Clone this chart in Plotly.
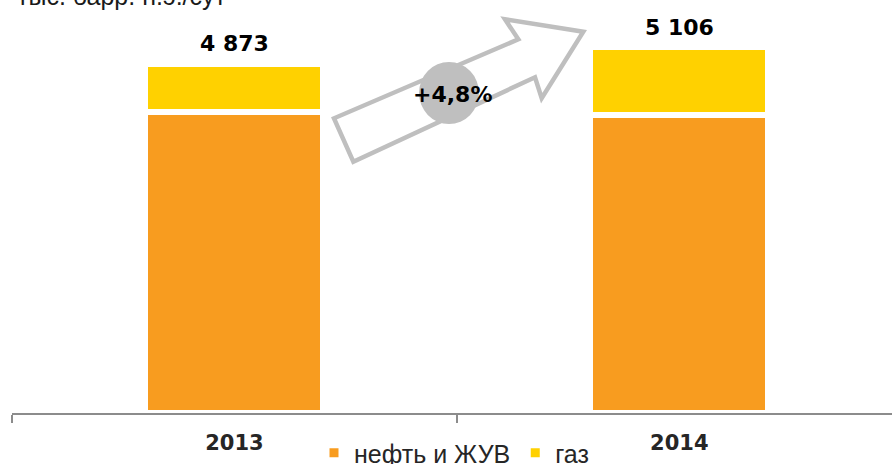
import plotly.graph_objects as go

# ---- data ----
years = ["2013", "2014"]
oil = [4196, 4157]      # нефть и ЖУВ
gas = [677, 949]        # газ
series_names = ["нефть и ЖУВ", "газ"]
unit_label = "тыс. барр. н.э./сут"

totals = [o + g for o, g in zip(oil, gas)]
growth = (totals[1] / totals[0] - 1) * 100

# ---- styles ----
ORANGE = "#F89C1F"
YELLOW = "#FFD100"
GREY = "#BFBFBF"
W, H = 892, 464
ML, MR, MT, MB = 12, 0, 0, 51
PW, PH = W - ML - MR, H - MT - MB


def px_x(x):
    return (x - ML) / PW


def px_y(y):
    return (H - MB - y) / PH


fig = go.Figure()
fig.add_trace(go.Bar(x=years, y=oil, name=series_names[0], marker=dict(color=ORANGE, line=dict(color="white", width=6)),
                     width=0.4, showlegend=False))
fig.add_trace(go.Bar(x=years, y=gas, name=series_names[1], marker=dict(color=YELLOW, line=dict(color="white", width=6)),
                     width=0.4, showlegend=False))
# legend entries
fig.add_trace(go.Scatter(x=[None], y=[None], mode="markers", name=series_names[0],
                         marker=dict(symbol="square", size=9, color=ORANGE)))
fig.add_trace(go.Scatter(x=[None], y=[None], mode="markers", name=series_names[1],
                         marker=dict(symbol="square", size=9, color=YELLOW)))

annotations = []
for i, tot in enumerate(totals):
    annotations.append(dict(x=i, y=tot, xref="x", yref="y", text=f"{tot:,}".replace(",", " "),
                            showarrow=False, xanchor="center", yanchor="middle", yshift=20,
                            font=dict(family="DejaVu Sans", size=22, color="#000000", weight="bold")))

annotations.append(dict(x=px_x(15), y=px_y(7), xref="paper", yref="paper", text=unit_label,
                        showarrow=False, xanchor="left", yanchor="bottom", yshift=-5,
                        font=dict(family="Liberation Sans", size=25, color="#1a1a1a")))

growth_txt = ("+" if growth >= 0 else "") + f"{growth:.1f}".replace(".", ",") + "%"
annotations.append(dict(x=px_x(453), y=px_y(95), xref="paper", yref="paper", text=growth_txt,
                        showarrow=False, xanchor="center", yanchor="middle",
                        font=dict(family="DejaVu Sans", size=22, color="#000000", weight="bold")))

# arrow outline (decorative), pixel coordinates converted to paper
arrow_px = [(353.3, 161.7), (334, 118.3), (518.3, 39.3), (505, 19.3), (583.3, 31.7),
            (541.7, 98.3), (535, 77.3)]
path = "M " + " L ".join(f"{px_x(x):.5f},{px_y(y):.5f}" for x, y in arrow_px) + " Z"
shapes = [
    dict(type="path", path=path, xref="paper", yref="paper", line=dict(color=GREY, width=4.5),
         fillcolor="rgba(255,255,255,0)", layer="above"),
    dict(type="circle", xref="paper", yref="paper", x0=px_x(419), x1=px_x(479), y0=px_y(124), y1=px_y(62),
         fillcolor=GREY, line=dict(width=0), layer="above"),
]

fig.update_layout(
    barmode="stack",
    width=W, height=H,
    margin=dict(l=ML, r=MR, t=MT, b=MB, autoexpand=False),
    paper_bgcolor="white", plot_bgcolor="white",
    showlegend=True,
    legend=dict(orientation="h", traceorder="normal", xref="container", yref="container",
                x=454 / W, xanchor="center", y=(H - 453) / H, yanchor="middle",
                font=dict(family="Liberation Sans", size=25, color="#262626"),
                bgcolor="rgba(0,0,0,0)", itemclick=False),
    annotations=annotations,
    shapes=shapes,
    xaxis=dict(type="category", range=[-0.5, 1.478], showline=True, linecolor="#8C8C8C", linewidth=2,
               ticks="outside", tickson="boundaries", ticklen=8, tickwidth=2, tickcolor="#8C8C8C",
               showgrid=False, zeroline=False, automargin=False, ticklabelstandoff=10,
               tickfont=dict(family="DejaVu Sans", size=21, color="#262626", weight="bold")),
    yaxis=dict(range=[0, 5762], visible=False, showgrid=False, zeroline=False, automargin=False),
)

fig.write_html("out.html", config={"displayModeBar": False},
               post_script="document.body.style.margin='0';")
